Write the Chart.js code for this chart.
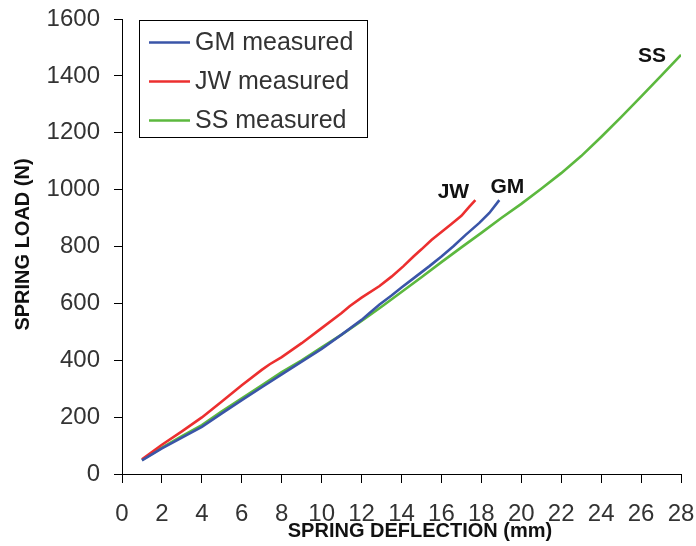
<!DOCTYPE html>
<html>
<head>
<meta charset="utf-8">
<script src="https://cdn.jsdelivr.net/npm/chart.js@4.4.1/dist/chart.umd.min.js"></script>
<style>
    html, body { margin: 0; padding: 0; background: #fff; }
    #wrap { width: 696px; height: 546px; }
</style>
</head>
<body>
<div id="wrap"><canvas id="myChart" width="696" height="546"></canvas></div>
<script>
// Data
const seriesNames = ['GM measured', 'JW measured', 'SS measured'];
const seriesColors = ['#3a55a8', '#ec2f2f', '#5cb83e'];

const gmDeflection = [1, 2, 3, 4, 5, 6, 7, 8, 9, 10, 11, 12, 12.4, 12.9, 13.5, 14, 14.6, 15.4, 16, 16.6, 17.2, 17.9, 18.4, 18.9];
const gmLoad = [48, 90, 128, 166, 213, 260, 305, 350, 395, 440, 490, 542, 566, 596, 628, 656, 688, 731, 765, 801, 840, 883, 918, 963];

const jwDeflection = [1, 2, 3, 4, 5, 6, 7, 7.4, 8, 9, 10, 11, 11.4, 12, 12.9, 13.5, 14.1, 14.6, 15, 15.5, 16, 16.5, 17, 17.4, 17.7];
const jwLoad = [52, 103, 150, 199, 255, 312, 366, 386, 411, 460, 513, 566, 590, 620, 661, 694, 731, 765, 790, 823, 851, 879, 908, 940, 963];

const ssDeflection = [1, 2, 3, 4, 5, 6, 7, 8, 9, 10, 11, 12, 13, 14, 15, 16, 17, 18, 19, 20, 21, 22, 23, 24, 25, 26, 27, 28];
const ssLoad = [50, 93, 133, 172, 220, 266, 312, 358, 400, 445, 490, 538, 588, 640, 692, 745, 797, 848, 900, 950, 1003, 1058, 1118, 1185, 1255, 1327, 1400, 1474];

const xTicks = [0, 2, 4, 6, 8, 10, 12, 14, 16, 18, 20, 22, 24, 26, 28];
const yTicks = [0, 200, 400, 600, 800, 1000, 1200, 1400, 1600];

// Labels written next to the line ends (data coordinates)
const endLabels = [
    { text: 'JW', x: 16.6, y: 990 },
    { text: 'GM', x: 19.3, y: 1010 },
    { text: 'SS', x: 26.55, y: 1470 }
];

const toPoints = (xs, ys) => xs.map((x, i) => ({ x: x, y: ys[i] }));

const allSeries = [
    toPoints(gmDeflection, gmLoad),
    toPoints(jwDeflection, jwLoad),
    toPoints(ssDeflection, ssLoad)
];

const datasets = allSeries.map((pts, i) => ({
    label: seriesNames[i],
    data: pts,
    borderColor: seriesColors[i],
    backgroundColor: seriesColors[i],
    borderWidth: 2.6,
    showLine: true,
    pointRadius: 0,
    tension: 0
}));

// Draws axis titles, the boxed legend and the end labels
const extrasPlugin = {
    id: 'extras',
    afterDraw(chart) {
        const ctx = chart.ctx;
        const xs = chart.scales.x;
        const ys = chart.scales.y;
        const area = chart.chartArea;
        ctx.save();

        // axis titles
        ctx.fillStyle = '#111';
        ctx.font = 'bold 20px "Liberation Sans", Arial, sans-serif';
        ctx.textAlign = 'center';
        ctx.textBaseline = 'middle';
        ctx.fillText('SPRING DEFLECTION (mm)', 420, 531);
        ctx.translate(23, (area.top + area.bottom) / 2 - 2);
        ctx.rotate(-Math.PI / 2);
        ctx.fillText('SPRING LOAD (N)', 0, 0);
        ctx.setTransform(1, 0, 0, 1, 0, 0);

        // end labels
        ctx.font = 'bold 21px "Liberation Sans", Arial, sans-serif';
        endLabels.forEach(l => {
            ctx.fillText(l.text, xs.getPixelForValue(l.x), ys.getPixelForValue(l.y));
        });

        // legend box
        const boxX = 139.5, boxY = 20.5, boxW = 228, boxH = 117;
        ctx.strokeStyle = '#000';
        ctx.lineWidth = 1;
        ctx.strokeRect(boxX, boxY, boxW, boxH);
        ctx.font = '25px "Liberation Sans", Arial, sans-serif';
        ctx.textAlign = 'left';
        seriesNames.forEach((name, i) => {
            const rowY = 42.5 + i * 39;
            ctx.strokeStyle = seriesColors[i];
            ctx.lineWidth = 2.6;
            ctx.beginPath();
            ctx.moveTo(149, rowY);
            ctx.lineTo(190, rowY);
            ctx.stroke();
            ctx.fillStyle = '#333';
            ctx.fillText(name, 195, rowY + 1);
        });
        ctx.restore();
    }
};

const tickFont = { family: '"Liberation Sans", Arial, sans-serif', size: 24 };

new Chart(document.getElementById('myChart').getContext('2d'), {
    type: 'scatter',
    data: { datasets: datasets },
    options: {
        responsive: false,
        animation: false,
        layout: { padding: { left: 0, right: 15, top: 19, bottom: 0 } },
        plugins: {
            legend: { display: false },
            tooltip: { enabled: false }
        },
        scales: {
            x: {
                type: 'linear',
                min: 0,
                max: 28,
                afterBuildTicks: s => { s.ticks = xTicks.map(v => ({ value: v })); },
                afterFit: s => { s.height = 72; s.paddingLeft = 0; s.paddingRight = 0; },
                grid: { drawOnChartArea: false, drawTicks: true, tickLength: 9, color: '#000' },
                border: { color: '#000', width: 1 },
                ticks: { font: tickFont, color: '#333', padding: 17, maxRotation: 0, autoSkip: false,
                    callback: v => String(v) }
            },
            y: {
                type: 'linear',
                min: 0,
                max: 1600,
                afterBuildTicks: s => { s.ticks = yTicks.map(v => ({ value: v })); },
                afterFit: s => { s.width = 122; s.paddingTop = 0; s.paddingBottom = 0; },
                grid: { drawOnChartArea: false, drawTicks: true, tickLength: 8, color: '#000' },
                border: { color: '#000', width: 1 },
                ticks: { font: tickFont, color: '#333', padding: 14, autoSkip: false,
                    callback: v => String(v) }
            }
        }
    },
    plugins: [extrasPlugin]
});
</script>
</body>
</html>
